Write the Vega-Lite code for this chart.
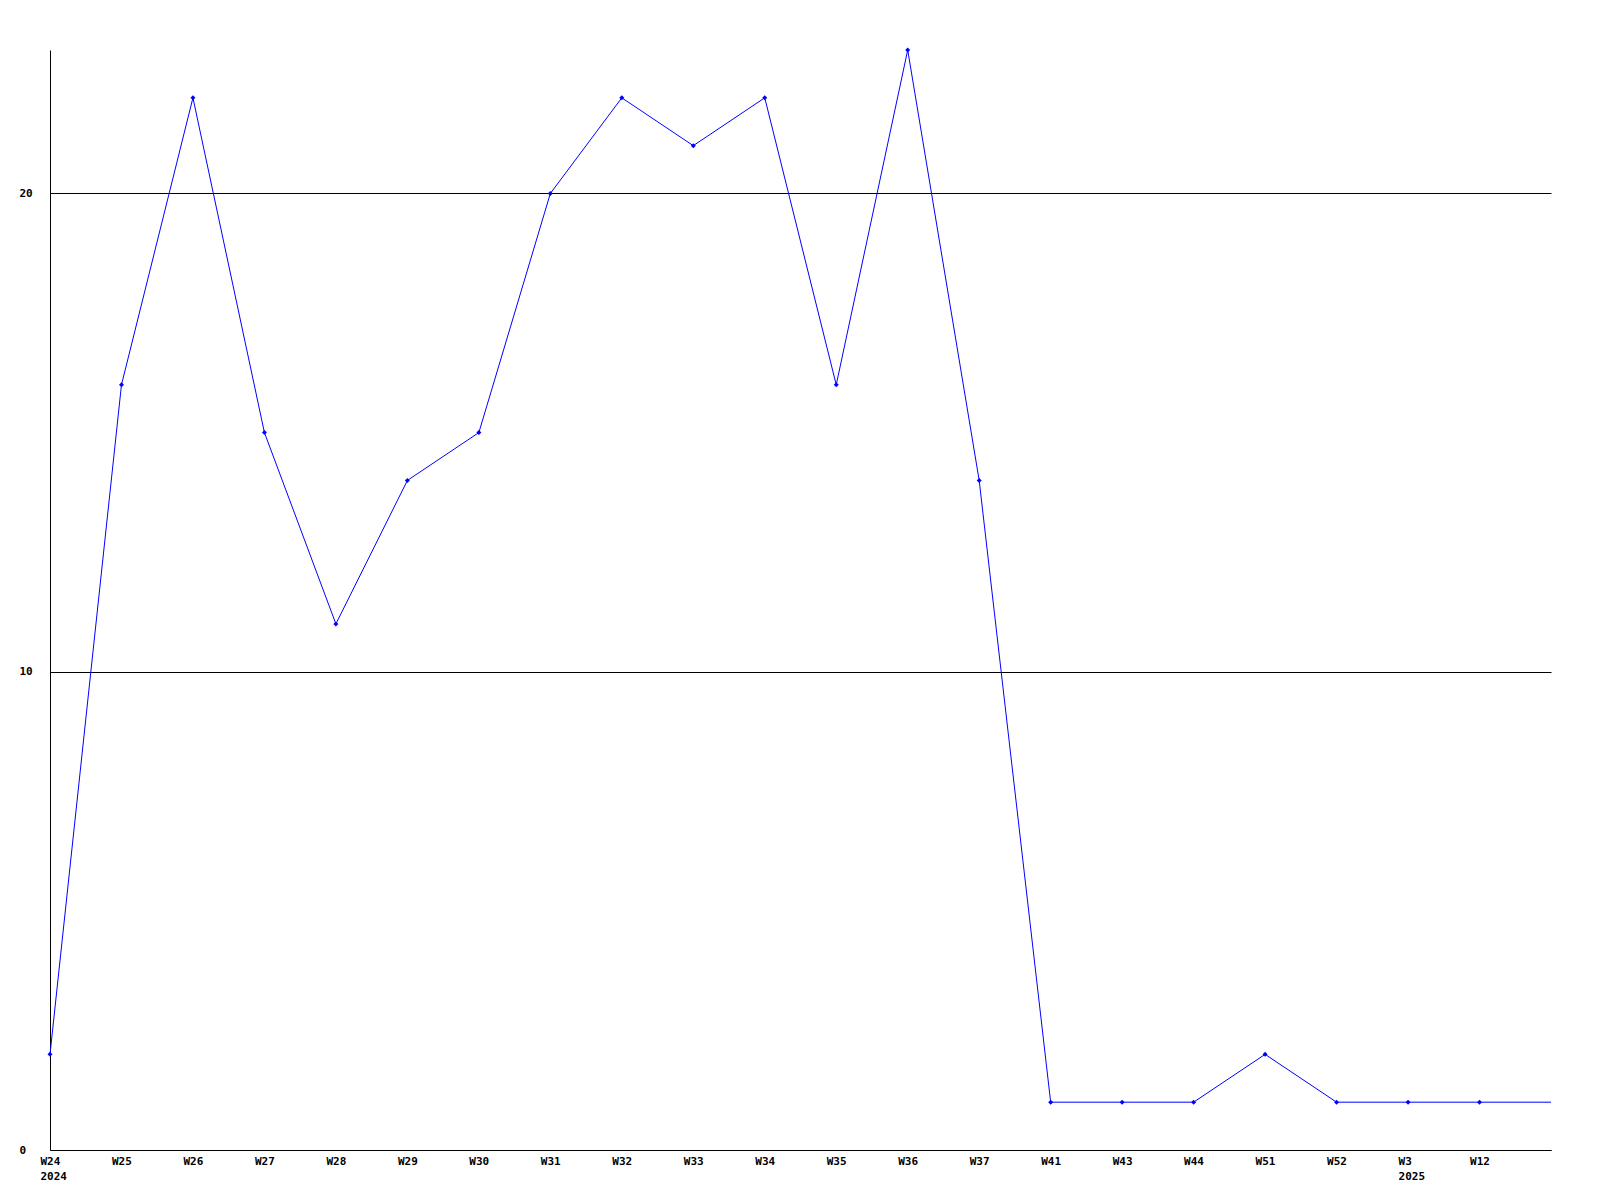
{
  "$schema": "https://vega.github.io/schema/vega-lite/v6.json",
  "width": 1501,
  "height": 1100,
  "autosize": {"type": "none"},
  "padding": {"left": 50, "top": 50, "right": 49, "bottom": 50},
  "background": "white",
  "config": {"view": {"stroke": null}},
  "data": {
    "values": [
      {"i": 0, "week": "W24 2024", "count": 2},
      {"i": 1, "week": "W25", "count": 16},
      {"i": 2, "week": "W26", "count": 22},
      {"i": 3, "week": "W27", "count": 15},
      {"i": 4, "week": "W28", "count": 11},
      {"i": 5, "week": "W29", "count": 14},
      {"i": 6, "week": "W30", "count": 15},
      {"i": 7, "week": "W31", "count": 20},
      {"i": 8, "week": "W32", "count": 22},
      {"i": 9, "week": "W33", "count": 21},
      {"i": 10, "week": "W34", "count": 22},
      {"i": 11, "week": "W35", "count": 16},
      {"i": 12, "week": "W36", "count": 23},
      {"i": 13, "week": "W37", "count": 14},
      {"i": 14, "week": "W41", "count": 1},
      {"i": 15, "week": "W43", "count": 1},
      {"i": 16, "week": "W44", "count": 1},
      {"i": 17, "week": "W51", "count": 2},
      {"i": 18, "week": "W52", "count": 1},
      {"i": 19, "week": "W3 2025", "count": 1},
      {"i": 20, "week": "W12", "count": 1},
      {"i": 21, "week": " ", "count": 1}
    ]
  },
  "encoding": {
    "x": {
      "field": "week",
      "type": "ordinal",
      "sort": {"field": "i"},
      "scale": {"type": "point", "padding": 0},
      "axis": {
        "title": null,
        "labelAngle": 0,
        "labelAlign": "left",
        "labelOffset": -10,
        "labelExpr": "split(datum.value, ' ')",
        "labelFont": "DejaVu Sans Mono",
        "labelFontWeight": "bold",
        "labelFontSize": 11,
        "labelColor": "black",
        "labelPadding": 5,
        "labelLineHeight": 15,
        "ticks": false,
        "grid": false,
        "domainColor": "black",
        "domainWidth": 1,
        "labelOverlap": false,
        "labelBound": false,
        "labelFlush": false
      }
    },
    "y": {
      "field": "count",
      "type": "quantitative",
      "scale": {"domain": [0, 23], "nice": false, "zero": true},
      "axis": {
        "title": null,
        "values": [0, 10, 20],
        "labelAlign": "left",
        "labelBaseline": "middle",
        "labelPadding": 31,
        "labelFont": "DejaVu Sans Mono",
        "labelFontWeight": "bold",
        "labelFontSize": 11,
        "labelColor": "black",
        "ticks": false,
        "grid": true,
        "gridColor": "black",
        "gridOpacity": 1,
        "gridWidth": 1,
        "domainColor": "black",
        "domainWidth": 1
      }
    }
  },
  "layer": [
    {
      "mark": {"type": "line", "color": "#0000ff", "strokeWidth": 1, "clip": false}
    },
    {
      "transform": [{"filter": "datum.i < 21"}],
      "mark": {"type": "point", "shape": "diamond", "filled": true, "color": "#0000ff", "size": 25, "opacity": 1}
    }
  ]
}
